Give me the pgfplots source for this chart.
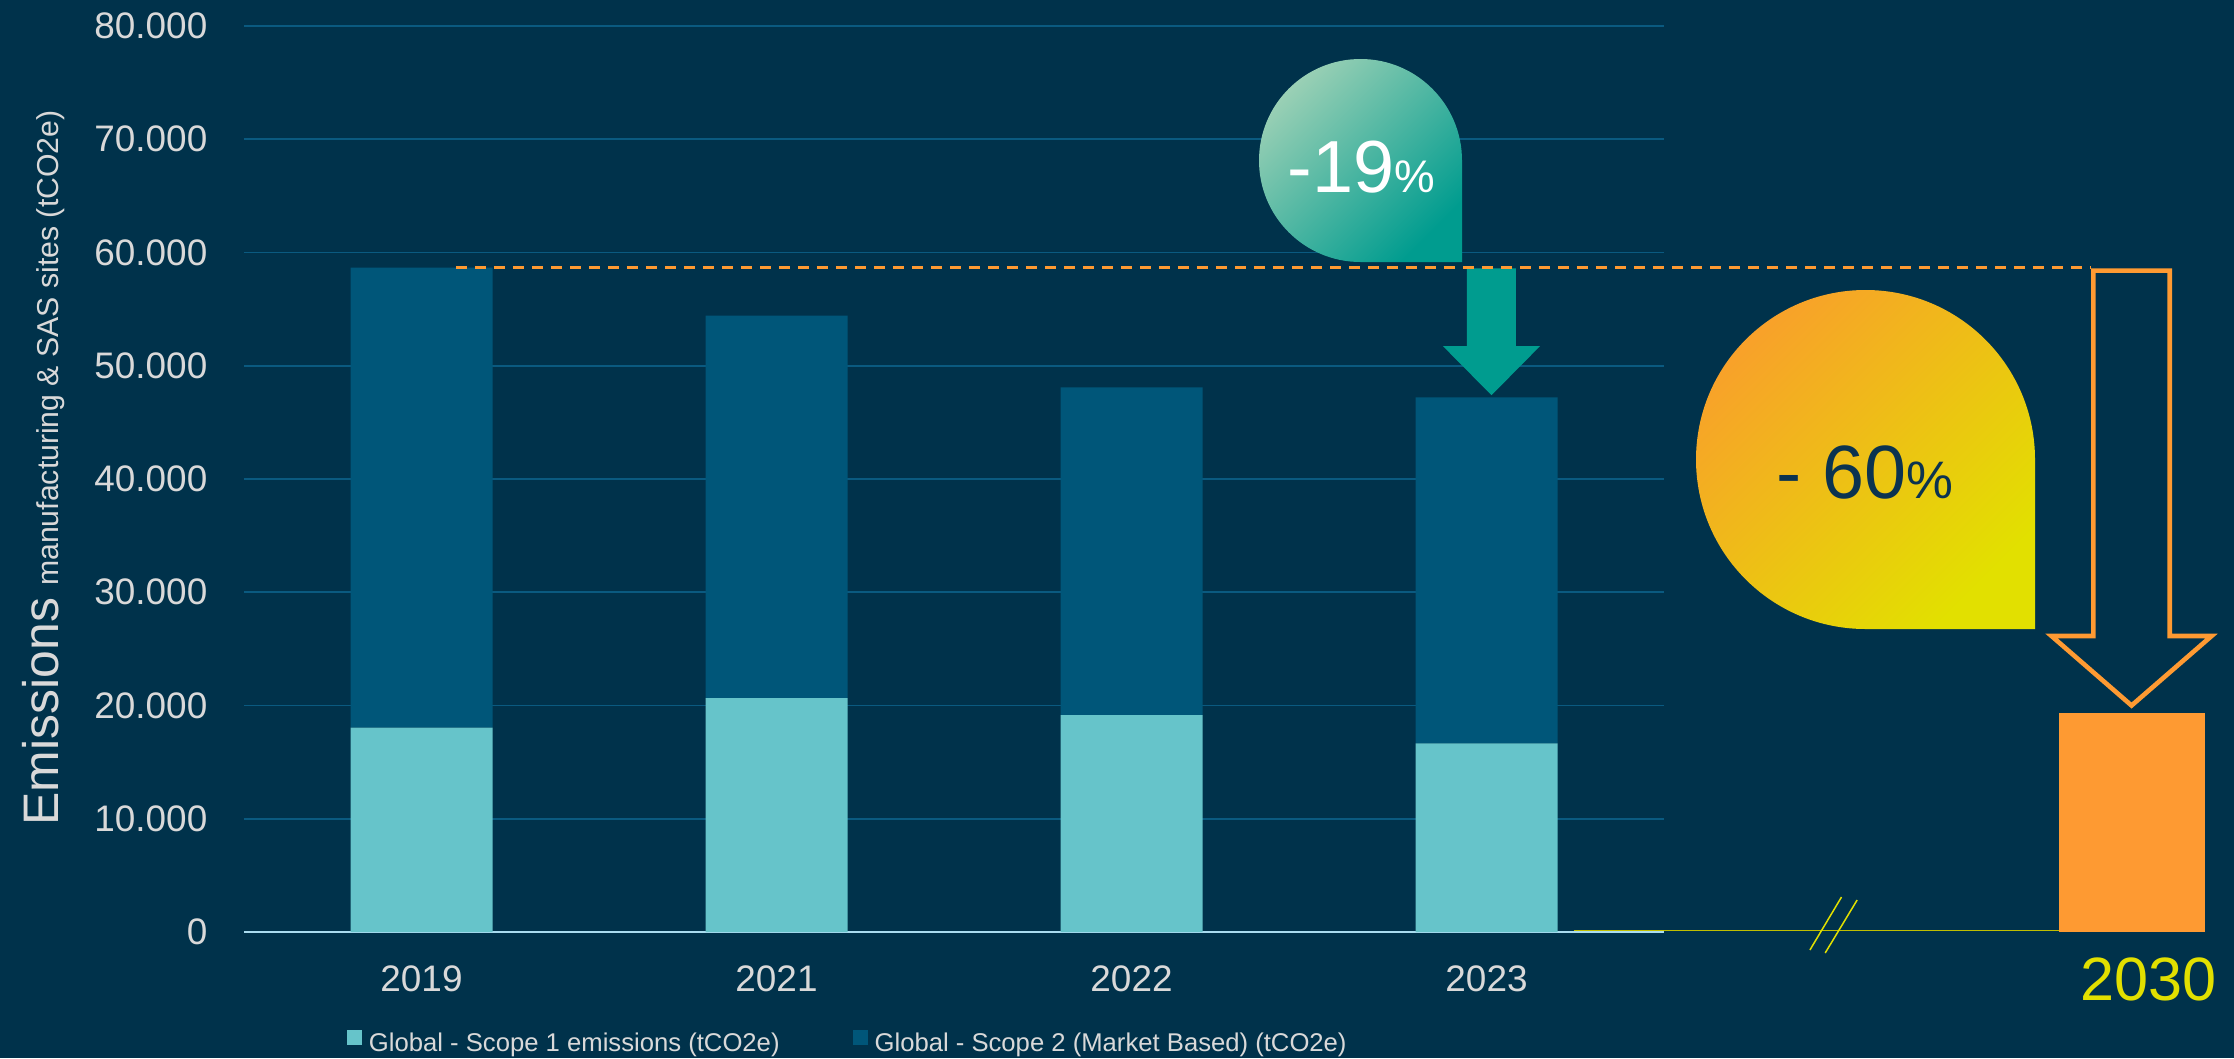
\documentclass[border=0pt]{standalone}
\usepackage{pgfplots}
\pgfplotsset{compat=1.18}
\usepackage{fontspec}
\setmainfont{Liberation Sans}
\definecolor{bgc}{HTML}{00324B}
\definecolor{sc1}{HTML}{66C4CA}
\definecolor{sc2}{HTML}{005679}
\definecolor{gridc}{HTML}{0A5A80}
\definecolor{tickc}{HTML}{D9D9D9}
\definecolor{orangec}{HTML}{FE9A32}
\definecolor{orangel}{HTML}{F8A12A}
\definecolor{tealc}{HTML}{009C8F}
\definecolor{teall}{HTML}{9AD0B5}
\definecolor{yelc}{HTML}{E2E000}
\definecolor{axc}{HTML}{A9DCF0}
\definecolor{darkt}{HTML}{0B3350}
\pgfplotsset{sqlegend/.style={legend image code/.code={\fill[##1] (0cm,0cm) rectangle (0.15cm,0.15cm);}}}
\begin{document}
\begin{tikzpicture}
\fill[bgc] (0,0) rectangle (22.34cm,10.58cm);

\begin{axis}[
  at={(2.44cm,1.26cm)}, anchor=south west,
  scale only axis, width=14.2cm, height=9.06cm,
  ybar stacked, bar width=0.4,
  every axis plot post/.append style={sqlegend},
  xmin=-0.5, xmax=3.5, ymin=0, ymax=80000,
  xtick={0,1,2,3}, xticklabels={2019,2021,2022,2023},
  ytick={0,10000,20000,30000,40000,50000,60000,70000,80000},
  scaled y ticks=false,
  /pgf/number format/fixed,
  /pgf/number format/1000 sep={.},
  /pgf/number format/assume math mode=true,
  axis x line*=bottom, axis y line*=left,
  y axis line style={draw=none},
  x axis line style={draw=axc, line width=0.02cm},
  tick style={draw=none},
  ymajorgrids, grid style={draw=gridc, line width=0.018cm},
  tick label style={font=\fontsize{10.5}{12}\selectfont, text=tickc},
  yticklabel style={anchor=east, inner sep=0pt, xshift=-0.36cm},
  xticklabel style={anchor=north, inner sep=0pt, yshift=-0.33cm},
  legend columns=2,
  legend style={at={(0.0725,-0.1225)}, anchor=west, draw=none, fill=none,
    inner sep=0pt, outer sep=0pt, text=tickc,
    font=\fontsize{7.3}{8}\selectfont, nodes={inner sep=0pt},
    /tikz/every odd column/.append style={column sep=0.07cm},
    /tikz/every even column/.append style={column sep=0.73cm}},
]
\addplot[fill=sc1, draw=none] coordinates {(0,18040) (1,20660) (2,19160) (3,16660)};
\addplot[fill=sc2, draw=none] coordinates {(0,40620) (1,33760) (2,28940) (3,30550)};
\legend{Global - Scope 1 emissions (tCO2e), Global - Scope 2 (Market Based) (tCO2e)}
\end{axis}

\begin{axis}[
  at={(2.44cm,1.26cm)}, anchor=south west,
  scale only axis, width=19.9cm, height=9.06cm,
  xmin=-0.5, xmax=5.1056, ymin=0, ymax=80000,
  hide axis, clip=false, ybar, bar width=0.411,
]
\addplot[fill=orangec, draw=none] coordinates {(4.818,19350)};
% teal arrow 2019 -> 2023
\fill[tealc] (2.945,58600) -- (3.083,58600) -- (3.083,51744) -- (3.151,51744)
  -- (3.014,47400) -- (2.877,51744) -- (2.945,51744) -- cycle;
% reference dashed line at 2019 level
\draw[orangec, line width=0.03cm, dash pattern=on 0.11cm off 0.08cm] (0.097,58660) -- (4.703,58660);
% hollow arrow to 2030 target
\draw[orangec, line width=0.046cm, line join=miter]
  (4.7094,58400) -- (4.9246,58400) -- (4.9246,26137) -- (5.0424,26137)
  -- (4.817,20000) -- (4.5916,26137) -- (4.7094,26137) -- cycle;
% yellow base line with break
\draw[yelc!85!black, line width=0.015cm] (3.2465,120) -- (4.613,120);
\draw[yelc, line width=0.015cm] (3.911,-1589) -- (4.000,3090);
\draw[yelc, line width=0.015cm] (3.954,-1854) -- (4.044,2826);
\node[anchor=north, inner sep=0pt, text=yelc, font=\fontsize{17.4}{18}\selectfont] at (4.866,0) [yshift=-0.25cm] {2030};
\end{axis}

% speech bubbles
\shade[top color=teall, bottom color=tealc, shading angle=45]
  (14.62,7.96) -- (14.62,8.975) arc[start angle=0, end angle=180, radius=1.015]
  arc[start angle=180, end angle=270, radius=1.015] -- cycle;
\node[anchor=base, inner sep=0pt, text=white] at (13.615,8.66)
  {\fontsize{21}{21}\selectfont -19\fontsize{13}{13}\selectfont\%};
\shade[top color=orangel, bottom color=yelc, shading angle=45]
  (20.35,4.29) -- (20.35,5.985) arc[start angle=0, end angle=180, radius=1.695]
  arc[start angle=180, end angle=270, radius=1.695] -- cycle;
\node[anchor=base, inner sep=0pt, text=darkt] at (18.6475,5.595)
  {\fontsize{21.5}{21}\selectfont - 60\fontsize{15}{15}\selectfont\%};

% y axis title
\node[rotate=90, anchor=base west, inner sep=0pt, text=tickc] at (0.58,2.32)
  {{\fontsize{14.2}{15}\selectfont Emissions}\hspace{0.12cm}{\fontsize{8.6}{9}\selectfont manufacturing \& SAS sites (tCO2e)}};

\pgfresetboundingbox
\useasboundingbox (0,0) rectangle (22.34,10.58);
\end{tikzpicture}
\end{document}
